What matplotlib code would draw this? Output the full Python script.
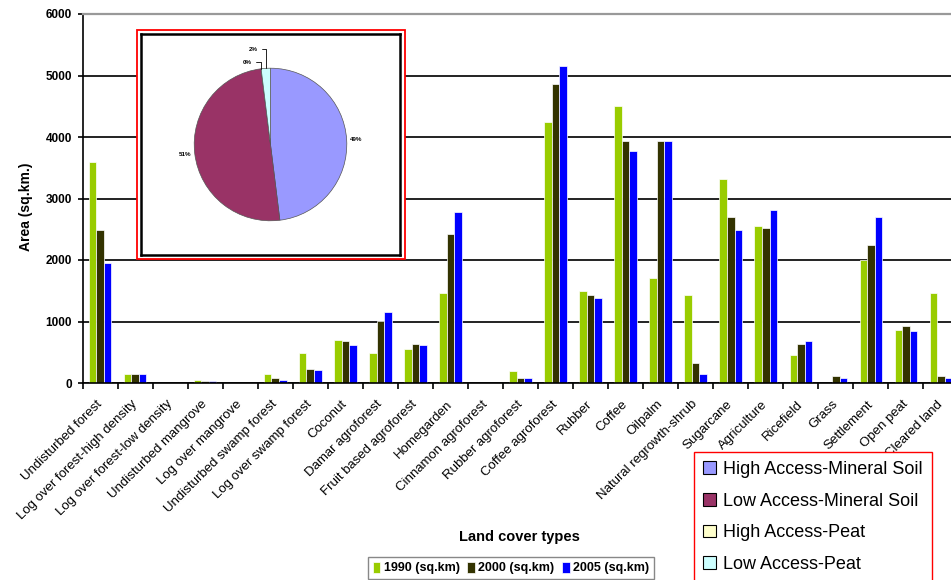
import matplotlib
matplotlib.use("Agg")
import matplotlib.pyplot as plt
import numpy as np
from matplotlib.patches import Rectangle, Patch

plt.rcParams['font.family'] = ['Liberation Sans', 'DejaVu Sans']

# Land cover areas per class (sq.km)
categories = [
    "Undisturbed forest", "Log over forest-high density", "Log over forest-low density",
    "Undisturbed mangrove", "Log over mangrove", "Undisturbed swamp forest",
    "Log over swamp forest", "Coconut", "Damar agroforest", "Fruit based agroforest",
    "Homegarden", "Cinnamon agroforest", "Rubber agroforest", "Coffee agroforest",
    "Rubber", "Coffee", "Oilpalm", "Natural regrowth-shrub", "Sugarcane",
    "Agriculture", "Ricefield", "Grass", "Settlement", "Open peat", "Cleared land",
]
area_1990 = [3600, 150, 0, 50, 0, 150, 480, 700, 480, 550, 1460, 0, 190, 4250,
             1500, 4500, 1700, 1430, 3320, 2550, 460, 0, 2000, 860, 1460]
area_2000 = [2480, 150, 0, 30, 0, 80, 230, 680, 1010, 640, 2420, 0, 80, 4860,
             1430, 3930, 3930, 320, 2700, 2520, 640, 120, 2250, 920, 120]
area_2005 = [1950, 150, 0, 30, 0, 50, 210, 610, 1150, 610, 2780, 0, 80, 5150,
             1390, 3770, 3930, 150, 2480, 2820, 680, 80, 2700, 840, 80]
series_labels = ["1990 (sq.km)", "2000 (sq.km)", "2005 (sq.km)"]
series_colors = ["#99CC00", "#333300", "#0000FF"]

# Share of area by accessibility / soil class (%)
access_classes = ["High Access-Mineral Soil", "Low Access-Mineral Soil",
                  "High Access-Peat", "Low Access-Peat"]
access_share = [49, 51, 0, 2]
access_colors = ["#9999FF", "#993366", "#FFFFCC", "#CCFFFF"]

W, H = 951, 580
fig = plt.figure(figsize=(W / 100, H / 100), dpi=100)

# ---- main grouped bar chart ----
ax = fig.add_axes([82.5 / W, 1 - 383 / H, (958.5 - 82.5) / W, (383 - 14) / H])
x = np.arange(len(categories)) + 0.5
width = 0.215
offsets = [-0.215, 0.0, 0.215]
bar_handles = []
for vals, lab, col, off in zip([area_1990, area_2000, area_2005],
                               series_labels, series_colors, offsets):
    b = ax.bar(x + off, vals, width, color=col, edgecolor="white",
               linewidth=0.5, label=lab, zorder=2)
    bar_handles.append(b)

ax.set_xlim(0, len(categories))
ax.set_ylim(0, 6000)
ax.set_yticks(np.arange(0, 6001, 1000))
ax.set_yticklabels([str(v) for v in range(0, 6001, 1000)],
                   fontsize=8.5, fontweight="bold")
ax.tick_params(axis="y", length=3.5, width=1.2, direction="out", pad=4)

ax.set_xticks(np.arange(len(categories) + 1))
ax.set_xticklabels([])
ax.tick_params(axis="x", which="major", length=4, width=1.2, direction="out")
ax.set_xticks(x, minor=True)
ax.set_xticklabels(categories, minor=True, rotation=45, ha="right",
                   va="center", rotation_mode="anchor", fontsize=9.5)
ax.tick_params(axis="x", which="minor", length=0, pad=14)

ax.set_axisbelow(True)
ax.yaxis.grid(True, color="#111111", linewidth=1.3)
ax.spines["right"].set_visible(False)
ax.spines["top"].set_color("#999999")
ax.spines["top"].set_linewidth(1.6)
ax.spines["left"].set_linewidth(1.2)
ax.spines["bottom"].set_linewidth(1.2)

fig.text(26 / W, 1 - 207 / H, "Area (sq.km.)", rotation=90, fontsize=10,
         fontweight="bold", ha="center", va="center")
fig.text(519 / W, 1 - 537 / H, "Land cover types", fontsize=10.5,
         fontweight="bold", ha="center", va="center")

leg1 = fig.legend(bar_handles, series_labels, loc="center",
                  bbox_to_anchor=(511 / W, 1 - 568 / H), ncol=3,
                  prop={"size": 9, "weight": "bold"}, fancybox=False,
                  edgecolor="#888888", framealpha=1, handlelength=0.6,
                  handleheight=1.0, handletextpad=0.3, columnspacing=0.6,
                  borderpad=0.35, borderaxespad=0)
leg1.get_frame().set_linewidth(1.0)

# ---- inset pie ----
frame = Rectangle((136.5 / W, 1 - 258.5 / H), (404.5 - 136.5) / W,
                  (258.5 - 29.5) / H, transform=fig.transFigure,
                  facecolor="white", edgecolor="red", linewidth=1.3, zorder=3)
fig.add_artist(frame)

pax = fig.add_axes([141 / W, 1 - 255 / H, 259 / W, 221 / H])
pax.set_zorder(4)
wedges, _ = pax.pie(access_share, colors=access_colors, startangle=90,
                    counterclock=False, radius=1.0,
                    wedgeprops=dict(edgecolor="#555555", linewidth=0.5))
r_px = 76.3
pax.set_xlim(-259 / 2 / r_px, 259 / 2 / r_px)
pax.set_ylim(-221 / 2 / r_px, 221 / 2 / r_px)
pax.set_aspect("auto")
pax.set_frame_on(True)
for s in pax.spines.values():
    s.set_color("black")
    s.set_linewidth(1.8)
pax.set_xticks([])
pax.set_yticks([])

small_text_pos = {2: (-0.24, 1.08), 3: (-0.17, 1.25)}
for i, (w, share) in enumerate(zip(wedges, access_share)):
    mid = np.deg2rad((w.theta1 + w.theta2) / 2)
    cx, cy = np.cos(mid), np.sin(mid)
    label = f"{share}%"
    if share >= 10:
        pax.text(1.04 * cx, 1.04 * cy, label, fontsize=4.5, fontweight="bold",
                 ha="left" if cx > 0 else "right", va="center")
    else:
        tx, ty = small_text_pos[i]
        pax.annotate(label, xy=(cx, cy), xytext=(tx, ty), fontsize=4.5,
                     fontweight="bold", ha="right", va="center",
                     arrowprops=dict(arrowstyle="-", lw=0.6, color="black",
                                     shrinkA=1, shrinkB=0,
                                     connectionstyle="angle,angleA=0,angleB=90,rad=0"))

pie_handles = [Patch(facecolor=c, edgecolor="black", linewidth=0.8)
               for c in access_colors]
leg2 = fig.legend(pie_handles, access_classes, loc="upper left",
                  bbox_to_anchor=(694 / W, 1 - 452 / H), fontsize=13,
                  fancybox=False, edgecolor="red", framealpha=1,
                  handlelength=0.7, handleheight=0.7, handletextpad=0.4,
                  labelspacing=0.81, borderpad=0.5, borderaxespad=0)
leg2.get_frame().set_linewidth(1.0)

fig.savefig("out.png", dpi=100)
